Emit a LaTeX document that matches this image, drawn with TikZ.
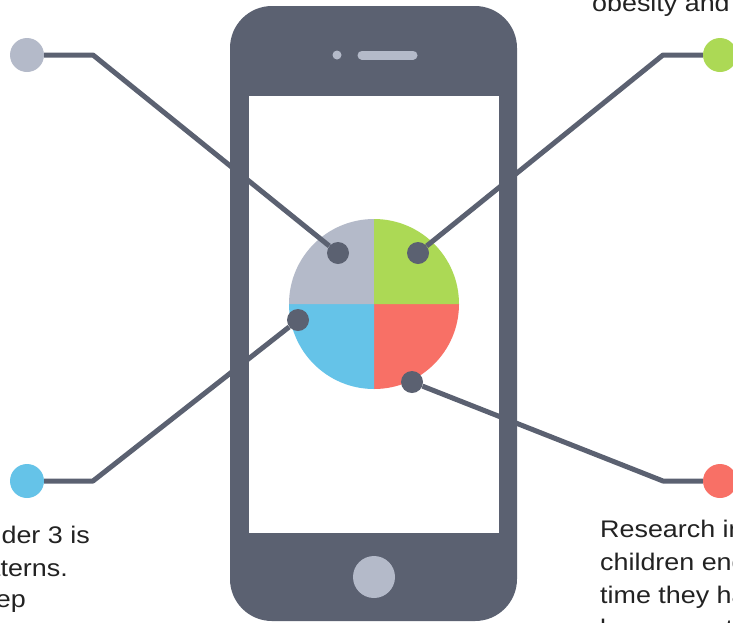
\documentclass[tikz,border=0pt]{standalone}
\usepackage{fontspec}
\setmainfont[FakeStretch=1.12]{Liberation Sans}
\definecolor{slate}{RGB}{91,97,113}
\definecolor{pieGray}{RGB}{180,186,201}
\definecolor{pieGreen}{RGB}{172,217,85}
\definecolor{pieBlue}{RGB}{101,195,232}
\definecolor{pieRed}{RGB}{248,112,102}
\definecolor{ink}{RGB}{34,34,34}
\tikzset{
    wire/.style={draw=slate, line width=5, line join=round},
    pin/.style={circle, fill=slate, inner sep=0, minimum size=22},
    tip/.style={circle, inner sep=0, minimum size=34},
    blurb/.style={font=\fontsize{24}{33}\selectfont, text=ink, inner sep=0, align=left}
}
\begin{document}
\begin{tikzpicture}[x=1pt, y=-1pt]
    \useasboundingbox (0,0) rectangle (733,622);

    % Draw phone
    \fill[slate, rounded corners=42] (230,6) rectangle (517,621);
    \fill[white] (249,96) rectangle (499,533);
    \fill[pieGray] (337,55) circle[radius=4.5];
    \draw[pieGray, line width=9, line cap=round] (362,55) -- (413,55);
    \node[circle, fill=pieGray, inner sep=0, minimum size=42] (home) at (374,577) {};

    % Draw pie
    \coordinate (pie) at (374,304);
    \foreach \col/\a in {pieRed/0, pieBlue/90, pieGray/180, pieGreen/270}
        \fill[\col] (pie) -- ++(\a:85) arc[start angle=\a, delta angle=90, radius=85] -- cycle;

    % Draw nodes
    \node[pin] (grayPin) at (338,253) {};
    \node[pin] (greenPin) at (418,253) {};
    \node[pin] (bluePin) at (298,320) {};
    \node[pin] (redPin) at (412,382) {};
    \node[tip, fill=pieGray] (grayEnd) at (27,55) {};
    \node[tip, fill=pieGreen] (greenEnd) at (720,55) {};
    \node[tip, fill=pieBlue] (blueEnd) at (27,481) {};
    \node[tip, fill=pieRed] (redEnd) at (720,481) {};
    \coordinate (grayBend) at (93,55);
    \coordinate (greenBend) at (663,55);
    \coordinate (blueBend) at (93,481);
    \coordinate (redBend) at (663,481);

    % Draw edges
    \draw[wire] (grayPin) -- (grayBend) -- (grayEnd);
    \draw[wire] (greenPin) -- (greenBend) -- (greenEnd);
    \draw[wire] (bluePin) -- (blueBend) -- (blueEnd);
    \draw[wire] (redPin) -- (redBend) -- (redEnd);

    % Draw texts
    \node[blurb, anchor=base west] (topText) at (592,11) {obesity and sleep};
    \node[blurb, anchor=base west] (rightText) at (600,636)
        {Research indicates\\children engage with\\time they have on\\lose more than};
    \node[blurb, anchor=base east] (leftLineA) at (90,543) {children under 3 is};
    \node[blurb, anchor=base east] (leftLineB) at (68,576) {sleep patterns.};
    \node[blurb, anchor=base east] (leftLineC) at (26,607) {sleep};
\end{tikzpicture}
\end{document}
